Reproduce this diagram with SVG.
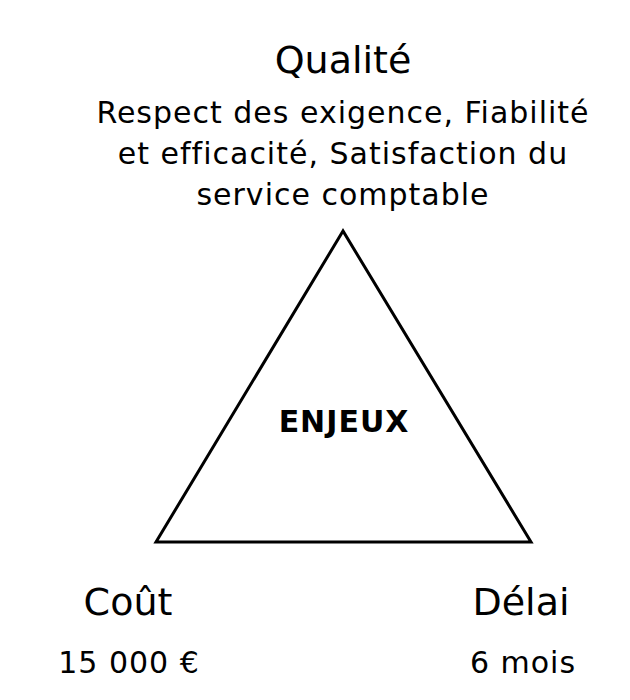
<svg xmlns="http://www.w3.org/2000/svg" width="630" height="700" viewBox="0 0 630 700">
<style>
text{font-family:"DejaVu Sans","Liberation Sans",sans-serif;fill:#000;text-anchor:middle}
.t{font-size:38px}
.b{font-size:30px;letter-spacing:1px}
.v{font-size:30px;letter-spacing:1px}
.c{font-size:30px;font-weight:bold;letter-spacing:1px}
.tri{fill:#fff;stroke:#000;stroke-width:3;stroke-linejoin:miter}
</style>
<rect width="630" height="700" fill="#fff"/>
<g id="qualite">
<text class="t" x="343" y="73">Qualité</text>
<text class="b" x="343" y="123">Respect des exigence, Fiabilité</text>
<text class="b" x="343" y="164">et efficacité, Satisfaction du</text>
<text class="b" x="343" y="205">service comptable</text>
</g>
<g id="enjeux">
<polygon class="tri" points="343,231 156,542 531,542"/>
<text class="c" x="344" y="432">ENJEUX</text>
</g>
<g id="cout">
<text class="t" x="128" y="615">Coût</text>
<text class="v" x="129" y="673">15 000 €</text>
</g>
<g id="delai">
<text class="t" x="521" y="615">Délai</text>
<text class="v" x="523" y="673">6 mois</text>
</g>
<g id="connectors"></g>
</svg>
